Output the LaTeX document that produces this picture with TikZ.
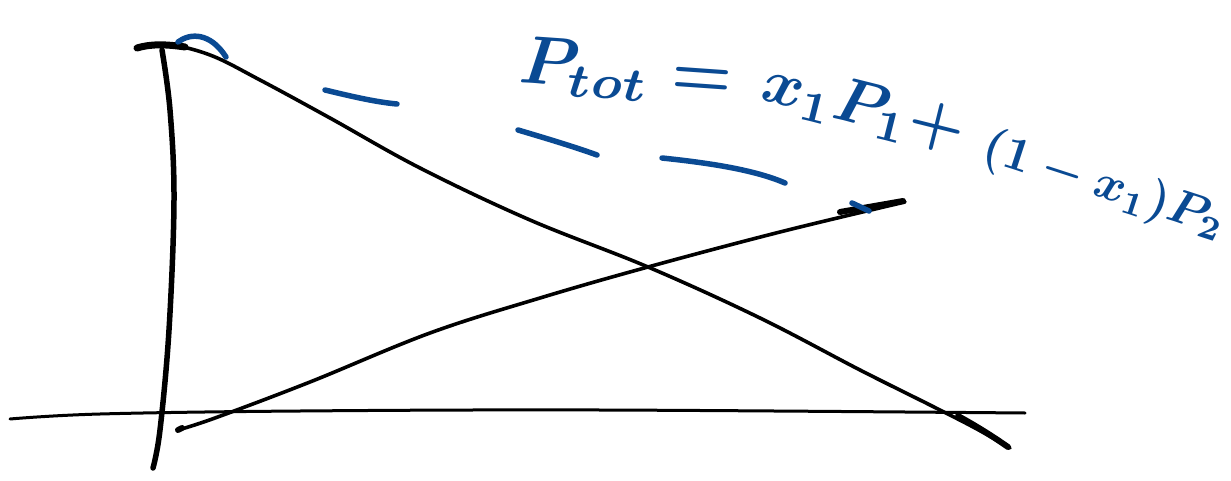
\documentclass[tikz,border=0pt]{standalone}
\usetikzlibrary{calc}
\definecolor{ink}{RGB}{10,74,147}
\tikzset{
  pen/.style={line width=3.6pt, line cap=round, line join=round, black},
  fatpen/.style={line width=7pt, line cap=round, line join=round, black},
  bluepen/.style={line width=7pt, line cap=round, line join=round, ink},
  hand/.style={text=ink, inner sep=0pt, font=\boldmath}
}
\begin{document}
\begin{tikzpicture}[x=1pt,y=-1pt]
\useasboundingbox (0,0) rectangle (1231,481);
% vertical axis
\draw[pen, line width=5.5pt] plot[smooth, tension=0.6] coordinates {(162,50) (170,110) (174,200) (169,330) (160,430) (153,468)};
% horizontal axis
\draw[pen, line width=3pt] plot[smooth, tension=0.6] coordinates {(10,419) (100,414) (300,411) (600,410) (1025,413)};
% decreasing curve
\draw[pen] plot[smooth, tension=0.6] coordinates {(137,48) (165,44) (210,55) (260,80) (330,118) (420,168) (530,220) (648,267) (760,318) (860,370) (930,405) (975,428) (1010,448)};
\draw[fatpen] (137,48) .. controls (150,44) and (165,44) .. (185,47);
\draw[fatpen, line width=6pt] (958,416) .. controls (980,428) and (995,438) .. (1008,447);
% increasing line
\draw[pen] plot[smooth, tension=0.6] coordinates {(178,430) (215,418) (310,382) (430,333) (540,298) (648,267) (780,232) (905,202)};
\draw[fatpen, line width=6pt] (178,430) -- (182,428);
\draw[fatpen, line width=6pt] (840,212) -- (903,201);
% blue dashes
\draw[bluepen, line width=5.5pt] (178,42) .. controls (190,33) and (210,32) .. (226,57);
\draw[bluepen, line width=5.5pt] (325,90) .. controls (350,96) and (375,102) .. (397,104);
\draw[bluepen, line width=5.5pt] (518,130) .. controls (545,138) and (575,147) .. (597,155);
\draw[bluepen, line width=5.5pt] (662,158) .. controls (710,163) and (755,170) .. (785,183);
\draw[bluepen, line width=5.5pt] (852,203) -- (869,211);
% formula
\node[hand, scale=6.8, rotate=-4] (f1) at (626,72) {$P_{tot}=$};
\node[hand, scale=6.3, rotate=-14] (f2) at (864,108) {$x_{1}P_{1}+$};
\node[hand, scale=4.8, rotate=-18] (f3) at (1104,186) {$(1-x_{1})P_{2}$};
\end{tikzpicture}
\end{document}
